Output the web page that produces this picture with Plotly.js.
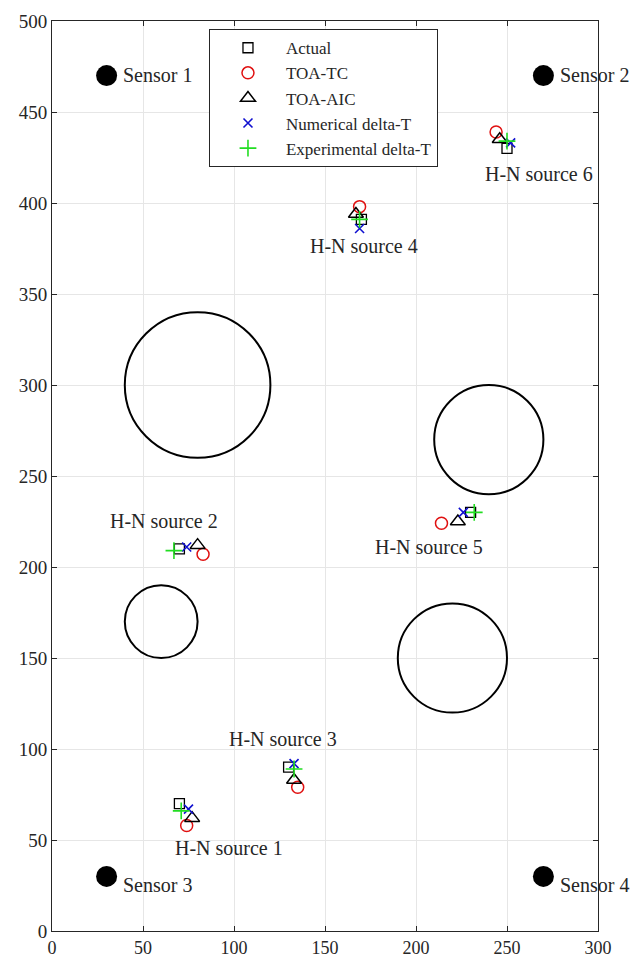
<!DOCTYPE html>
<html>
<head>
<meta charset="utf-8">
<script src="https://cdn.plot.ly/plotly-3.0.1.min.js"></script>
<style>html,body{margin:0;padding:0;background:#fff;}#chart{width:632px;height:957px;}</style>
</head>
<body>
<div id="chart"></div>
<script>
// Actual source positions
const actualX = [70, 70, 130, 170, 230, 250];
const actualY = [70, 210, 90, 391, 230, 430];
// TOA-TC estimates
const tcX = [74, 83, 135, 169, 214, 244];
const tcY = [58, 207, 79, 398, 224, 439];
// TOA-AIC estimates
const aicX = [77, 80, 133, 167, 223, 246];
const aicY = [62, 212, 83, 394, 225, 435];
// Numerical delta-T estimates
const numX = [75, 74, 133, 169, 226, 252];
const numY = [67, 211, 92, 386, 230, 433];
// Experimental delta-T estimates
const expX = [71, 67, 133, 169, 232, 250];
const expY = [66, 209, 89, 391, 230, 434];
// Sensors
const sensorX = [30, 270, 30, 270];
const sensorY = [470, 470, 30, 30];
const sensorNames = ["Sensor 1", "Sensor 2", "Sensor 3", "Sensor 4"];
const sensorLabelX = [38, 278, 38, 278];
const sensorLabelY = [470.5, 470.5, 25.5, 25.5];
// Obstacles (holes)
const holeX = [80, 240, 60, 220];
const holeY = [300, 270, 170, 150];
const holeR = [40, 30, 20, 30];
// Source labels
const srcNames = ["H-N source 1", "H-N source 2", "H-N source 3", "H-N source 4", "H-N source 5", "H-N source 6"];
const srcLabelX = [97, 61.5, 127, 171.5, 207, 267.5];
const srcLabelY = [45.5, 225.5, 105.5, 376.5, 211, 416];
// Axis ticks
const xTicks = [0, 50, 100, 150, 200, 250, 300];
const yTicks = [0, 50, 100, 150, 200, 250, 300, 350, 400, 450, 500];

const FONT = "'Liberation Serif', 'Times New Roman', serif";
const TXT = "#262626";

const traces = [
  {x: sensorX, y: sensorY, type: 'scatter', mode: 'markers', showlegend: false,
   marker: {symbol: 'circle', size: 21, color: '#000'}, hoverinfo: 'skip'},
  {x: actualX, y: actualY, type: 'scatter', mode: 'markers', name: 'Actual',
   marker: {symbol: 'square-open', size: 10, color: '#000', line: {width: 1.3, color: '#000'}}},
  {x: tcX, y: tcY, type: 'scatter', mode: 'markers', name: 'TOA-TC',
   marker: {symbol: 'circle-open', size: 12, color: '#e01010', line: {width: 1.5, color: '#e01010'}}},
  {x: aicX, y: aicY, type: 'scatter', mode: 'markers', name: 'TOA-AIC',
   marker: {symbol: 'triangle-up-open', size: 13, color: '#000', line: {width: 1.5, color: '#000'}}},
  {x: numX, y: numY, type: 'scatter', mode: 'markers', name: 'Numerical delta-T',
   marker: {symbol: 'x-thin-open', size: 9, color: '#1010d0', line: {width: 1.6, color: '#1010d0'}}},
  {x: expX, y: expY, type: 'scatter', mode: 'markers', name: 'Experimental delta-T',
   marker: {symbol: 'cross-thin-open', size: 12, color: '#22dd22', line: {width: 1.6, color: '#22dd22'}}}
];

const shapes = holeX.map((cx, i) => ({
  type: 'circle', xref: 'x', yref: 'y',
  x0: cx - holeR[i], x1: cx + holeR[i], y0: holeY[i] - holeR[i], y1: holeY[i] + holeR[i],
  line: {color: '#000', width: 2}, layer: 'above'
}));

const annotations = [];
sensorNames.forEach((t, i) => annotations.push({
  x: sensorLabelX[i], y: sensorLabelY[i], xref: 'x', yref: 'y', text: t, showarrow: false,
  xanchor: 'left', yanchor: 'middle', font: {family: FONT, size: 20, color: TXT}
}));
srcNames.forEach((t, i) => annotations.push({
  x: srcLabelX[i], y: srcLabelY[i], xref: 'x', yref: 'y', text: t, showarrow: false,
  xanchor: 'center', yanchor: 'middle', font: {family: FONT, size: 20, color: TXT}
}));

const axisCommon = {
  showgrid: true, gridcolor: '#e6e6e6', gridwidth: 1,
  zeroline: false, showline: true, linecolor: '#262626', linewidth: 1, mirror: 'ticks',
  ticks: 'inside', ticklen: 5, tickcolor: '#262626', tickwidth: 1,
  tickfont: {family: FONT, size: 19, color: TXT}, automargin: false, fixedrange: true,
  tickmode: 'array'
};

const layout = {
  width: 632, height: 957,
  margin: {l: 52, r: 34, t: 21, b: 26, pad: 0},
  paper_bgcolor: '#fff', plot_bgcolor: '#fff',
  xaxis: Object.assign({}, axisCommon, {range: [0, 300], tickvals: xTicks, ticktext: xTicks.map(String),
    tickfont: {family: FONT, size: 18, color: TXT}}),
  yaxis: Object.assign({}, axisCommon, {range: [0, 500], tickvals: yTicks, ticktext: yTicks.map(String)}),
  showlegend: true,
  legend: {
    x: 0.2875, y: 0.991, xanchor: 'left', yanchor: 'top',
    bgcolor: '#fff', bordercolor: '#262626', borderwidth: 1,
    font: {family: FONT, size: 17, color: TXT},
    itemwidth: 66, tracegroupgap: 0,
    entrywidth: 172, entrywidthmode: 'pixels'
  },
  shapes: shapes,
  annotations: annotations
};

Plotly.newPlot('chart', traces, layout, {displayModeBar: false, staticPlot: true});
</script>
</body>
</html>
